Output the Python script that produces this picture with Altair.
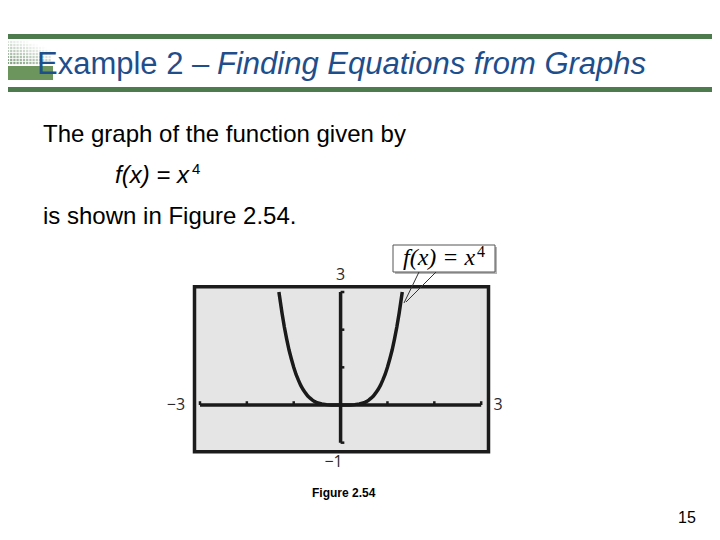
import altair as alt
import pandas as pd

# ---------------- data ----------------
curve_x = [-1.316, -1.25, -1.2, -1.15, -1.1, -1.05, -1.0, -0.95, -0.9, -0.85, -0.8,
           -0.75, -0.7, -0.65, -0.6, -0.55, -0.5, -0.4, -0.3, -0.2, 0.0, 0.2, 0.3,
           0.4, 0.5, 0.55, 0.6, 0.65, 0.7, 0.75, 0.8, 0.85, 0.9, 0.95, 1.0, 1.05,
           1.1, 1.15, 1.2, 1.25, 1.316]
curve_y = [3.0, 2.44, 2.07, 1.75, 1.46, 1.22, 1.0, 0.81, 0.66, 0.52, 0.41,
           0.32, 0.24, 0.18, 0.13, 0.09, 0.06, 0.03, 0.01, 0.0, 0.0, 0.0, 0.01,
           0.03, 0.06, 0.09, 0.13, 0.18, 0.24, 0.32, 0.41, 0.52, 0.66, 0.81, 1.0, 1.22,
           1.46, 1.75, 2.07, 2.44, 3.0]
x_axis_ends = [-3, 3]
y_axis_ends = [-1, 3]
x_tick_values = [-3, -2, -1, 1, 2, 3]
y_tick_values = [-1, 1, 2, 3]
window_label_text = ["\u22123", "3", "3", "\u22121"]
window_label_x = [-3, 3, 0, 0]
window_label_y = [0, 0, 3, -1]

title_plain = "Example 2 \u2013 "
title_italic = "Finding Equations from Graphs"
body_line1 = "The graph of the function given by"
body_formula = "f(x) = x"
body_formula_exp = "4"
body_line3 = "is shown in Figure 2.54."
callout_text = "f(x) = x"
callout_exp = "4"
caption_text = "Figure 2.54"
page_number = "15"

# ---------------- layout ----------------
W, H = 294, 165
OX, OY = 194.5, 286.7          # page position of the plot area
PAD = {"left": OX - 8, "top": OY - 8, "right": 712 - OX - W, "bottom": 532 - OY - H}

xs = alt.Scale(domain=[-3.117, 3.156], nice=False, zero=False)
ys = alt.Scale(domain=[-1.240, 3.141], nice=False, zero=False)
INK = "#1a1a1a"


def px(X):
    return X - OX


def py(Y):
    return Y - OY


one = pd.DataFrame({"k": [0]})


def text_at(txt, X, Y, **kw):
    return alt.Chart(pd.DataFrame({"t": [txt]})).mark_text(**kw).encode(
        x=alt.value(px(X)), y=alt.value(py(Y)), text="t:N")


def rule_at(X1, Y1, X2, Y2, **kw):
    return alt.Chart(one).mark_rule(**kw).encode(
        x=alt.value(px(X1)), y=alt.value(py(Y1)),
        x2=alt.value(px(X2)), y2=alt.value(py(Y2)))


def rect_at(X1, Y1, X2, Y2, **kw):
    return alt.Chart(one).mark_rect(**kw).encode(
        x=alt.value(px(X1)), y=alt.value(py(Y1)),
        x2=alt.value(px(X2)), y2=alt.value(py(Y2)))


# ---------------- graph window ----------------
curve_df = pd.DataFrame({"x": curve_x, "y": curve_y, "o": list(range(len(curve_x)))})
curve = alt.Chart(curve_df).mark_line(color=INK, strokeWidth=3.5, clip=True).encode(
    x=alt.X("x:Q", scale=xs, axis=None),
    y=alt.Y("y:Q", scale=ys, axis=None),
    order="o:Q")

axes_df = pd.DataFrame({"x": [x_axis_ends[0], 0], "x2": [x_axis_ends[1], 0],
                        "y": [0, y_axis_ends[0]], "y2": [0, y_axis_ends[1]]})
axes = alt.Chart(axes_df).mark_rule(color=INK, strokeWidth=3.5).encode(
    x=alt.X("x:Q", scale=xs, axis=None), x2="x2:Q",
    y=alt.Y("y:Q", scale=ys, axis=None), y2="y2:Q")

xticks = alt.Chart(pd.DataFrame({"x": x_tick_values})).mark_rule(color=INK, strokeWidth=2.5).encode(
    x=alt.X("x:Q", scale=xs, axis=None),
    y=alt.Y(datum=0, scale=ys, axis=None), y2=alt.Y2(datum=0.1))
yticks = alt.Chart(pd.DataFrame({"y": y_tick_values})).mark_rule(color=INK, strokeWidth=2.5).encode(
    y=alt.Y("y:Q", scale=ys, axis=None),
    x=alt.X(datum=0, scale=xs, axis=None), x2=alt.X2(datum=0.08))

label_offsets = [(-24, 0), (17, 0), (0, -17), (-7, 19)]
labels = []
for i, txt in enumerate(window_label_text):
    dx, dy = label_offsets[i]
    labels.append(
        alt.Chart(pd.DataFrame({"t": [txt], "x": [window_label_x[i]], "y": [window_label_y[i]]}))
        .mark_text(font="Open Sans", fontSize=16, color="#2a2a2a",
                   align="center", baseline="middle", dx=dx, dy=dy)
        .encode(x=alt.X("x:Q", scale=xs, axis=None), y=alt.Y("y:Q", scale=ys, axis=None), text="t:N"))

# ---------------- callout ----------------
callout = [
    rect_at(395, 247, 497, 274, fill="#b5b5b5"),
    rect_at(393, 245, 495, 272, fill="white", stroke="#555555", strokeWidth=1),
    rule_at(419, 272, 404, 303, color="#333333", strokeWidth=1),
    rule_at(436, 272, 406, 302, color="#333333", strokeWidth=1),
    text_at(callout_text, 403, 265, font="Liberation Serif", fontStyle="italic",
            fontSize=24, color="black", align="left", baseline="alphabetic"),
    text_at(callout_exp, 477, 257, font="Liberation Serif",
            fontSize=16, color="black", align="left", baseline="alphabetic"),
]

# ---------------- slide header ----------------
GREEN = "#4d7b4d"
header = [
    rule_at(8, 36.5, 712, 36.5, color=GREEN, strokeWidth=5),
    rule_at(8, 89.5, 712, 89.5, color=GREEN, strokeWidth=5),
]
# halftone badge at the left of the title
dot_rows = []
for r in range(8):
    for c in range(14):
        X = 8 + c * 3.2
        Y = 42 + r * 3
        op = max(0.0, min(1.0, 0.25 + 0.09 * r - 0.035 * c))
        dot_rows.append({"X": px(X), "Y": py(Y), "op": op})
dots = alt.Chart(pd.DataFrame(dot_rows)).mark_square(size=5, color="#6f8f6f").encode(
    x=alt.X("X:Q", scale=None), y=alt.Y("Y:Q", scale=None), opacity=alt.Opacity("op:Q", scale=None))
header += [dots, rect_at(8, 66, 53, 80, fill="#5c8a4c", opacity=0.9)]
header += [
    text_at(title_plain, 37, 74, font="Liberation Sans", fontSize=31, color="#1f4e8c",
            align="left", baseline="alphabetic"),
    text_at(title_italic, 217, 74, font="Liberation Sans", fontSize=31, fontStyle="italic",
            color="#1f4e8c", align="left", baseline="alphabetic"),
]

# ---------------- body text ----------------
body = [
    text_at(body_line1, 43, 142, font="Liberation Sans", fontSize=24, color="black",
            align="left", baseline="alphabetic"),
    text_at(body_formula, 115, 183, font="Liberation Sans", fontSize=24, fontStyle="italic",
            color="black", align="left", baseline="alphabetic"),
    text_at(body_formula_exp, 192, 174, font="Liberation Sans", fontSize=15, color="black",
            align="left", baseline="alphabetic"),
    text_at(body_line3, 43, 224, font="Liberation Sans", fontSize=24, color="black",
            align="left", baseline="alphabetic"),
    text_at(caption_text, 312, 497, font="Liberation Sans", fontSize=12, fontWeight="bold",
            color="black", align="left", baseline="alphabetic"),
    text_at(page_number, 678, 523, font="Liberation Sans", fontSize=16, color="black",
            align="left", baseline="alphabetic"),
]

chart = alt.layer(axes, xticks, yticks, curve, *labels, *callout, *header, *body).properties(
    width=W, height=H, padding=PAD,
    autosize=alt.AutoSizeParams(type="none"),
    background="white",
).configure_view(fill="#e5e5e5", stroke="#1c1c1c", strokeWidth=3.5)

chart.save("out.html", embed_options={"renderer": "svg", "actions": False})
